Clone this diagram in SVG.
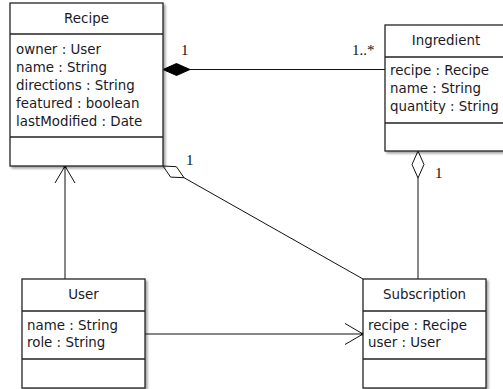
<svg xmlns="http://www.w3.org/2000/svg" width="503" height="389" viewBox="0 0 503 389">
<style>
.box{fill:#fff;stroke:#222;stroke-width:1.3}
.div{stroke:#222;stroke-width:1.3}
.t{font-family:"DejaVu Sans",Verdana,sans-serif;font-size:13.4px;fill:#1a1a26}
.h{text-anchor:middle}
.m{font-family:"Liberation Serif","Times New Roman",serif;font-size:15px;fill:#111}
.ln{stroke:#111;stroke-width:1;fill:none}
.od{fill:#fff;stroke:#111;stroke-width:1}
.fd{fill:#000;stroke:#000;stroke-width:1}
</style>
<defs>
<filter id="sh" x="-10%" y="-10%" width="130%" height="130%">
<feDropShadow dx="2" dy="2" stdDeviation="1.2" flood-color="#000" flood-opacity="0.35"/>
</filter>
</defs>
<rect width="503" height="389" fill="#fff"/>
<g id="connectors">
<line class="ln" x1="190" y1="69.5" x2="385" y2="69.5"/>
<polygon class="fd" points="163,69.5 176.5,63.5 190,69.5 176.5,75.5"/>
<line class="ln" x1="184" y1="177.7" x2="363" y2="279"/>
<polygon class="od" points="163,166 176.4,166.7 184,177.7 170.6,177.1"/>
<line class="ln" x1="418" y1="178" x2="418" y2="279"/>
<polygon class="od" points="418,151 424,164.5 418,178 412,164.5"/>
<line class="ln" x1="65" y1="279" x2="65" y2="166"/>
<polyline class="ln" points="55,183 65,166 75,183"/>
<circle cx="65" cy="166.5" r="1.5" fill="#000"/>
<line class="ln" x1="145" y1="334" x2="363" y2="334"/>
<polyline class="ln" points="345,323.5 363,334 345,344.5"/>
<circle cx="362.5" cy="334" r="1.5" fill="#000"/>
<text class="m" x="181" y="55">1</text>
<text class="m" x="352" y="55">1..*</text>
<text class="m" x="186" y="165">1</text>
<text class="m" x="435" y="178">1</text>
</g>
<g id="Recipe">
<rect class="box" x="10" y="3" width="153" height="163" filter="url(#sh)"/>
<line class="div" x1="10" y1="34" x2="163" y2="34"/>
<line class="div" x1="10" y1="137" x2="163" y2="137"/>
<text class="t h" x="86.5" y="23">Recipe</text>
<text class="t" x="16" y="54">owner : User</text>
<text class="t" x="16" y="72">name : String</text>
<text class="t" x="16" y="90">directions : String</text>
<text class="t" x="16" y="108">featured : boolean</text>
<text class="t" x="16" y="126">lastModified : Date</text>
</g>
<g id="Ingredient">
<rect class="box" x="385" y="25" width="125" height="126" filter="url(#sh)"/>
<line class="div" x1="385" y1="57" x2="510" y2="57"/>
<line class="div" x1="385" y1="123" x2="510" y2="123"/>
<text class="t h" x="446" y="45">Ingredient</text>
<text class="t" x="390" y="75">recipe : Recipe</text>
<text class="t" x="390" y="93">name : String</text>
<text class="t" x="390" y="111">quantity : String</text>
</g>
<g id="User">
<rect class="box" x="22" y="279" width="123" height="109" filter="url(#sh)"/>
<line class="div" x1="22" y1="311" x2="145" y2="311"/>
<line class="div" x1="22" y1="359" x2="145" y2="359"/>
<text class="t h" x="83.5" y="299">User</text>
<text class="t" x="27" y="330">name : String</text>
<text class="t" x="27" y="347">role : String</text>
</g>
<g id="Subscription">
<rect class="box" x="363" y="279" width="123" height="109" filter="url(#sh)"/>
<line class="div" x1="363" y1="311" x2="486" y2="311"/>
<line class="div" x1="363" y1="359" x2="486" y2="359"/>
<text class="t h" x="424.5" y="299">Subscription</text>
<text class="t" x="368" y="330">recipe : Recipe</text>
<text class="t" x="368" y="347">user : User</text>
</g>
</svg>
